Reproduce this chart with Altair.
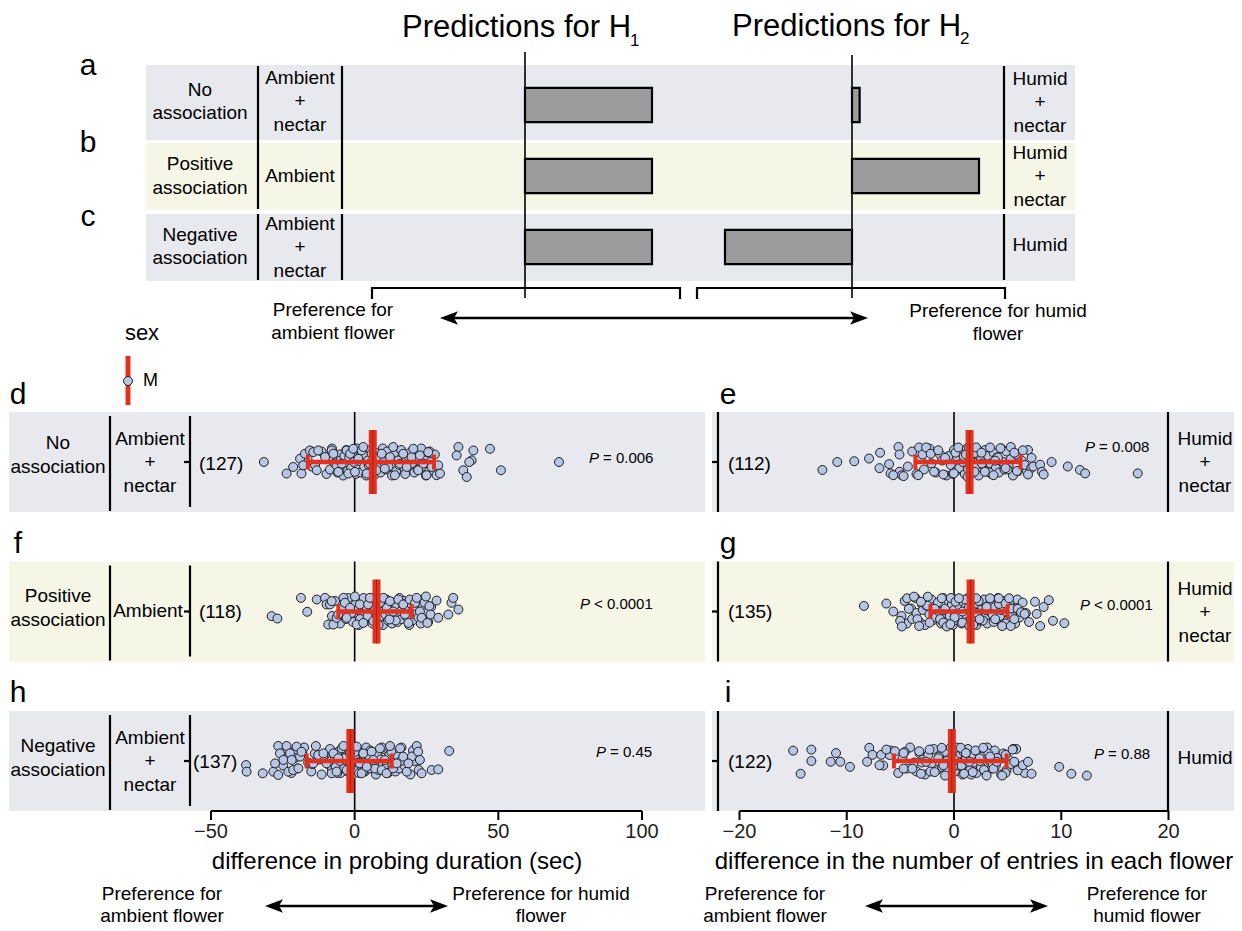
import altair as alt
import pandas as pd

# ------------------------------------------------------------------ data
pred_rows = ["No association", "Positive association", "Negative association"]
h1_pred = [1.0, 1.0, 1.0]          # predicted preference under H1 (schematic units)
h2_pred = [0.06, 1.0, -1.0]        # predicted preference under H2 (schematic units)

panels = ["d", "e", "f", "g", "h", "i"]
panel_side = ["L", "R", "L", "R", "L", "R"]
panel_row = [0, 0, 1, 1, 2, 2]
panel_n = [127, 112, 118, 135, 137, 122]
panel_mean = [6.3, 1.45, 7.6, 1.55, -1.5, -0.2]
panel_lo = [-16.3, -3.6, -5.7, -2.2, -16.7, -5.6]
panel_hi = [27.6, 6.2, 19.8, 5.0, 12.9, 4.9]
panel_p = ["= 0.006", "= 0.008", "< 0.0001", "< 0.0001", "= 0.45", "= 0.88"]

ticks_probing = [-50, 0, 50, 100]
ticks_entries = [-20, -10, 0, 10, 20]

# individual birds: clearly visible points (value, vertical jitter) ...
d_vis_x = [-31.6, -23.7, -21.4, -19.0, -18.5, -17.9, -17.3, -15.6, -14.4, -13.2, -12.7, -10.3, -8.0, -7.4,
           -6.3, -5.7, -4.5, -2.8, -2.2, -1.6, -0.5, 0.1, 1.3, 2.4, 3.0, 4.2, 5.3, 5.9, 7.6, 9.4, 10.5,
           12.3, 13.4, 14.0, 15.8, 16.9, 18.1, 19.8, 20.4, 22.1, 22.7, 23.9, 25.0, 25.6, 26.8, 28.5, 29.1,
           29.7, 36.1, 35.5, 41.3, 40.7, 39.9, 37.8, 39.0, 47.1, 50.9, 71.1]
d_vis_j = [0.0, 0.77, 0.33, -0.22, 0.77, 0.22, -0.55, -0.77, -0.66, 0.55, -0.77, -0.33, -0.77, -0.55, 0.22,
           0.66, 0.11, -0.77, 0.77, -0.55, -0.88, 0.66, -0.22, -0.77, -1.0, 0.77, 0.11, -0.55, 0.55, -0.55,
           0.44, -0.33, -1.0, 0.88, 0.11, -0.55, 0.33, -0.33, -0.88, 0.55, -0.44, 0.11, 0.88, -0.66, 0.33,
           0.88, 0.22, 0.77, -1.0, -0.44, -0.77, -0.11, 0.0, 0.55, 1.0, -0.88, 0.55, 0.0]
e_vis_x = [-12.27, -10.88, -9.30, -7.92, -6.89, -6.95, -6.05, -5.92, -5.18, -5.08, -5.08, -4.86, -4.70,
           -5.66, -3.34, -3.25, -2.93, -2.60, -2.18, -1.86, -1.47, -0.99, -0.83, -0.02, 0.14, 0.40, 1.11,
           1.27, 1.91, 2.07, 2.56, 2.88, 3.36, 3.68, 3.84, 4.33, 4.81, 5.29, 5.62, 5.87, 6.42, 6.90, 7.23,
           7.39, 8.03, 8.20, 8.36, 9.10, 10.61, 11.74, 12.23, 17.13]
e_vis_j = [0.53, 0.0, -0.05, -0.23, -0.62, 0.41, 0.14, 0.76, -1.0, -0.5, 0.65, 0.88, 0.94, 0.88, 0.88,
           -0.97, -0.5, -0.97, -0.55, 0.65, -0.78, 0.83, -0.28, 0.76, -0.62, -0.97, -0.5, 1.0, 0.65, -0.97,
           -0.62, 0.65, -0.97, 0.88, -0.09, -0.92, 0.41, -1.0, -0.62, 0.6, -0.78, 0.83, -0.28, 0.3, 0.18,
           0.65, 0.83, 0.0, 0.3, 0.53, 0.76, 0.76]
f_vis_x = [-28.9, -26.9, -18.7, -16.5, -13.2, -10.3, -9.8, -9.2, -8.6, -8.0, -7.4, -6.3, -5.7, -3.9, -3.4,
           -2.8, -1.6, 0.1, 0.7, 1.8, 3.0, 4.7, 5.3, 6.5, 7.1, 8.8, 10.0, 11.2, 12.1, 12.3, 13.4, 15.2, 16.9,
           17.5, 18.7, 19.2, 21.0, 21.6, 22.7, 23.3, 24.8, 25.3, 26.0, 26.4, 28.5, 29.1, 32.6, 33.7, 34.3, 36.1]
f_vis_j = [0.31, 0.47, -0.91, 0.02, -0.8, -0.91, -0.47, 0.87, -0.47, -0.69, 0.87, 0.42, 0.2, -0.91, -0.58,
           0.42, -0.24, -1.0, 0.87, -0.47, 0.76, -0.47, -0.91, 0.64, -0.13, -0.58, -0.91, -0.24, 0.53, -0.69,
           0.0, -0.8, -0.47, 0.2, 0.76, -0.8, -0.58, -0.91, 0.0, 0.42, -1.0, 0.76, -0.36, 0.2, -0.73, 0.42,
           0.2, -0.58, -0.91, -0.13]
g_vis_x = [-8.40, -6.31, -5.66, -5.02, -4.86, -4.37, -4.21, -3.73, -3.41, -3.25, -3.08, -2.44, -2.28,
           -1.80, -1.15, -0.99, -0.67, -0.34, 0.14, 0.46, 0.78, 1.43, 2.07, 2.39, 3.04, 3.36, 3.84, 4.17,
           4.49, 4.81, 5.13, 5.29, 5.62, 5.94, 6.26, 6.58, 7.55, 7.71, 8.03, 8.36, 8.84, 9.23, 10.29]
g_vis_j = [-0.37, -0.53, 0.0, 0.62, 1.0, -0.88, -0.18, -0.99, 0.51, 0.97, -0.65, -0.99, 0.74, -0.18, -0.88,
           0.74, 1.0, 0.85, -0.65, -0.88, 0.74, 0.97, -0.88, 0.51, -0.3, -0.88, 0.51, -0.88, 0.97, -0.53,
           -0.88, 0.97, 0.51, -0.18, 0.05, 0.16, -0.65, 0.16, 0.97, -0.3, -0.76, 0.62, 0.78]
h_vis_x = [-37.8, -37.6, -32.0, -28.3, -27.7, -26.6, -26.6, -26.0, -24.8, -23.7, -23.1, -22.5, -21.9, -21.4,
           -20.2, -19.6, -19.0, -18.5, -14.4, -13.5, -12.7, -10.9, -9.8, -8.0, -7.4, -6.3, -5.7, -4.5, -3.9,
           -2.8, -1.6, 0.7, 1.8, 2.4, 3.0, 4.2, 5.9, 6.5, 8.8, 9.4, 10.5, 11.1, 12.3, 13.4, 14.6, 15.8, 16.9,
           18.1, 18.7, 21.6, 22.1, 22.7, 23.3, 26.8, 29.1, 32.9]
h_vis_j = [0.27, 0.71, 0.82, 0.71, 0.16, -1.0, 0.93, -0.51, -0.07, -1.0, 0.71, -0.51, -0.07, 0.6, -0.96,
           0.49, -0.29, -0.62, 0.16, -1.0, -0.4, -0.51, 0.16, 0.82, -0.51, 0.71, -0.18, -0.84, -1.0, 0.6,
           -0.51, -0.96, 0.16, 0.82, -0.51, 0.38, -0.62, -0.07, -0.84, 0.6, -0.07, 0.82, -1.0, 0.49, 0.16,
           -0.84, -0.29, 0.71, 0.16, -1.0, -0.62, -0.07, 0.82, 0.6, 0.56, -0.67]
i_vis_x = [-15.0, -14.3, -13.3, -13.3, -11.5, -11.0, -10.6, -9.7, -7.9, -8.1, -7.6, -6.95, -6.79, -6.31,
           -5.5, -4.70, -4.70, -3.89, -3.25, -3.08, -2.60, -2.28, -1.80, -1.47, -1.15, -0.99, -0.83, 0.62,
           0.94, 1.11, 1.43, 1.75, 2.39, 2.72, 3.04, 3.36, 3.68, 4.0, 4.49, 4.81, 5.46, 5.62, 5.94, 6.42,
           6.90, 7.23, 9.81, 10.94, 12.39]
i_vis_j = [-0.69, 0.85, -0.76, 0.0, 0.05, -0.53, 0.05, 0.39, -0.88, 0.05, -0.41, 0.28, -0.41, -0.76, -0.65,
           -0.53, 0.51, 0.51, -0.65, 0.85, 0.05, -0.76, 0.74, -0.18, -0.88, 0.28, 0.97, -0.88, 0.85, -0.53,
           0.05, 0.74, -0.18, -0.88, 0.97, -0.3, 0.51, 0.05, 0.97, -0.41, -0.76, 0.05, 0.62, 0.28, 0.05,
           0.85, 0.39, 0.85, 0.97]

# ... and the densely overlapped core of each swarm (estimated)
d_core_x = [-15.0, -11.5, -9.8, -9.0, -8.6, -7.9, -6.9, -6.0, -5.2, -4.9, -4.0, -3.6, -3.3, -2.9, -2.5, -1.9,
            -1.2, -0.9, -0.3, 0.4, 0.8, 1.0, 1.7, 2.0, 2.7, 3.3, 3.6, 4.0, 4.6, 4.9, 5.6, 6.1, 6.5, 6.8, 7.2,
            7.9, 8.3, 8.7, 9.0, 9.8, 10.1, 10.9, 11.3, 11.8, 12.6, 13.0, 13.7, 14.5, 15.1, 15.5, 16.2, 17.3,
            17.6, 18.6, 19.2, 20.0, 20.8, 21.4, 21.9, 23.2, 23.5, 24.4, 24.8, 26.1, 26.4, 27.4, 27.9, -13.8, -16.4]
e_core_x = [-4.3, -3.9, -3.5, -3.1, -2.8, -2.3, -2.1, -1.7, -1.3, -1.1, -0.7, -0.5, -0.3, 0.0, 0.2, 0.3, 0.5,
            0.7, 0.8, 1.0, 1.2, 1.3, 1.5, 1.6, 1.8, 2.0, 2.2, 2.3, 2.5, 2.7, 2.9, 3.0, 3.2, 3.4, 3.5, 3.7, 3.9,
            4.0, 4.2, 4.4, 4.6, 4.7, 4.9, 5.1, 5.3, 5.5, 5.8, 6.0, 6.3, 6.6, 6.9, 7.2, -0.1, 0.9, 1.9, 2.6,
            3.3, 4.1, 5.0, 1.4]
f_core_x = [-7.9, -6.8, -5.1, -4.4, -3.0, -2.2, -1.1, -0.6, 0.4, 1.1, 1.5, 2.3, 2.6, 3.4, 3.8, 4.2, 5.0, 5.6,
            5.9, 6.2, 6.8, 7.4, 7.7, 8.1, 8.5, 9.2, 9.5, 9.9, 10.4, 10.7, 11.0, 11.6, 11.9, 12.7, 13.0, 13.8,
            14.1, 14.5, 14.9, 15.6, 16.0, 16.4, 17.2, 17.8, 18.2, 19.0, 19.6, 20.1, 20.5, 21.3, 21.9, 22.2,
            23.0, 23.8, 24.3, 25.0, 25.6, 26.6, 1.9, 3.1, 4.5, 6.5, 8.3, 10.1, 12.0, 14.3, 16.7, 18.9]
g_core_x = [-4.9, -4.6, -4.4, -4.0, -3.9, -3.6, -3.5, -3.2, -3.0, -2.9, -2.7, -2.6, -2.3, -2.1, -2.0, -1.9,
            -1.7, -1.5, -1.4, -1.2, -1.0, -0.9, -0.8, -0.6, -0.5, -0.4, -0.2, -0.1, 0.0, 0.1, 0.2, 0.3, 0.5,
            0.6, 0.7, 0.9, 1.0, 1.1, 1.2, 1.3, 1.5, 1.6, 1.7, 1.9, 2.0, 2.1, 2.2, 2.4, 2.5, 2.6, 2.8, 2.9, 3.1,
            3.2, 3.4, 3.5, 3.7, 3.8, 4.0, 4.1, 4.3, 4.4, 4.6, 4.7, 4.9, 5.0, 5.2, 5.4, 5.5, 5.7, 5.9, 6.1, 6.4,
            6.7, 7.0, -2.5, -1.3, -0.3, 0.4, 0.8, 1.4, 1.8, 2.3, 2.7, 3.0, 3.6, 4.2, 4.8, 5.3, 0.05, 1.05, 2.15]
h_core_x = [-24.9, -23.3, -22.0, -20.8, -19.9, -17.6, -16.2, -15.1, -13.9, -12.2, -11.5, -10.4, -9.3, -8.6,
            -7.9, -7.0, -6.6, -5.9, -5.2, -4.9, -4.2, -3.6, -3.2, -2.5, -2.1, -1.8, -1.3, -0.9, -0.5, -0.2,
            0.2, 0.5, 0.9, 1.2, 1.5, 2.1, 2.6, 3.3, 3.6, 4.0, 4.6, 5.1, 5.5, 6.2, 6.9, 7.4, 7.8, 8.3, 9.0, 9.8,
            10.2, 11.0, 11.6, 12.0, 12.8, 13.7, 14.2, 15.1, 15.5, 16.3, 17.3, 17.7, 19.4, 20.3, 21.0, 22.3,
            -18.2, -14.8, -11.0, -6.1, -3.9, -1.5, 0.0, 1.8, 3.0, 4.8, 7.1, 9.5, 13.1, 16.0, 19.9]
i_core_x = [-6.6, -5.9, -5.2, -4.8, -4.4, -4.1, -3.7, -3.5, -3.2, -2.9, -2.7, -2.4, -2.1, -1.9, -1.6, -1.3,
            -1.1, -0.9, -0.7, -0.5, -0.3, -0.2, 0.0, 0.1, 0.3, 0.4, 0.6, 0.8, 1.0, 1.2, 1.3, 1.5, 1.7, 1.9,
            2.1, 2.2, 2.5, 2.6, 2.9, 3.1, 3.3, 3.5, 3.8, 3.9, 4.2, 4.4, 4.6, 4.9, 5.1, 5.3, 5.8, 6.1, 6.6,
            -6.0, -4.6, -3.0, -2.2, -1.4, -0.6, 0.2, 0.7, 1.1, 1.6, 2.0, 2.4, 2.8, 3.2, 3.6, 4.0, 4.8, 5.5,
            -0.1, 0.9]
core_jitter = [0.3, -0.7, 0.8, -0.2, 0.5, -0.9, 0.1, 0.7, -0.5, -0.1, 0.9, -0.4, 0.2, -0.8, 0.6, -0.3, 0.4,
               -0.6, 0.0, 0.8, -0.9, 0.5, -0.2, 0.7, -0.7, 0.3, -0.5, 0.9, -0.1, 0.2, -0.8, 0.6, -0.4, 0.1,
               0.8, -0.6, 0.4, -0.3, 0.7, -0.9, 0.0, 0.5, -0.7, 0.3, -0.2, 0.9, -0.5, 0.6, -0.1, 0.2, -0.8,
               0.4, 0.8, -0.4, -0.6, 0.1, 0.7, -0.3, 0.5, -0.9, 0.3, -0.1, 0.9, -0.7, 0.0, 0.6, -0.5, 0.2,
               -0.2, 0.8, -0.8, 0.4, -0.6, 0.1, 0.7, -0.4, 0.5, -0.9, 0.3, 0.0, -0.3, 0.9, -0.7, 0.6, -0.1,
               0.2, -0.5, 0.8, -0.2, 0.4, -0.8, 0.1, 0.7, -0.6, 0.5, -0.3, 0.9, -0.9, 0.3, -0.4]

vis_x = {"d": d_vis_x, "e": e_vis_x, "f": f_vis_x, "g": g_vis_x, "h": h_vis_x, "i": i_vis_x}
vis_j = {"d": d_vis_j, "e": e_vis_j, "f": f_vis_j, "g": g_vis_j, "h": h_vis_j, "i": i_vis_j}
core_x = {"d": d_core_x, "e": e_core_x, "f": f_core_x, "g": g_core_x, "h": h_core_x, "i": i_core_x}

# ------------------------------------------------------------------ layout / style
OX, OY, W, H = 8, 8, 1226, 919
FONT = "Liberation Sans"
GREY = "#e8e9ee"
YELLOW = "#f5f6e6"
RED = "#e2321f"
DARKRED = "#a8200f"
PT_FILL = "#b8c6e6"
BAR_FILL = "#9a9b9a"
ROWC = [462, 611.5, 761]          # centres of the three lower rows (px)
JIT_PX = 15                        # half-height of the swarms (px)


def anchored(v0, p0, v1, p1, lo, hi, reverse=False):
    u = (p1 - p0) / (v1 - v0)
    return alt.Scale(domain=[v0 + (lo - p0) / u, v0 + (hi - p0) / u],
                     nice=False, zero=False, reverse=reverse)


XPX = anchored(0, 0, 1, 1, OX, OX + W)
YPX = anchored(0, 0, 1, 1, OY, OY + H, reverse=True)
X_L = anchored(-50, 211, 100, 642, OX, OX + W)        # probing duration (s)
X_R = anchored(-20, 739.5, 20, 1168.5, OX, OX + W)    # number of entries
X_H1 = anchored(0, 525, 1, 652, OX, OX + W)
X_H2 = anchored(0, 852, 1, 979, OX, OX + W)
Y_ROW = anchored(0, ROWC[0], 1, ROWC[1], OY, OY + H, reverse=True)
Y_TOP = anchored(0, 105, 1, 176, OY, OY + H, reverse=True)
ROW_PX = ROWC[1] - ROWC[0]


def T(rows, size, align="center", lh=None, italic=False, font=FONT):
    """Text block(s); y is the vertical centre of the whole (possibly multi-line) block."""
    lh = lh or size * 1.2
    fixed = []
    for t, x, y in rows:
        n = t.count("\n") + 1
        fixed.append((t, x, y - (n - 1) * lh / 2))
    df = pd.DataFrame(fixed, columns=["t", "x", "y"])
    kw = dict(font=font, fontSize=size, align=align, baseline="middle", color="black",
              lineBreak="\n", lineHeight=lh)
    if italic:
        kw["fontStyle"] = "italic"
    return alt.Chart(df).mark_text(**kw).encode(
        x=alt.X("x:Q", scale=XPX, axis=None),
        y=alt.Y("y:Q", scale=YPX, axis=None),
        text="t:N")


def R(rows, w=2.0, color="black", xs=None, ys=None):
    df = pd.DataFrame(rows, columns=["x1", "y1", "x2", "y2"])
    return alt.Chart(df).mark_rule(color=color, strokeWidth=w).encode(
        x=alt.X("x1:Q", scale=xs or XPX, axis=None), x2="x2:Q",
        y=alt.Y("y1:Q", scale=ys or YPX, axis=None), y2="y2:Q")


def B(rows):
    df = pd.DataFrame(rows, columns=["x1", "x2", "y1", "y2", "c"])
    return alt.Chart(df).mark_rect().encode(
        x=alt.X("x1:Q", scale=XPX, axis=None), x2="x2:Q",
        y=alt.Y("y1:Q", scale=YPX, axis=None), y2="y2:Q",
        color=alt.Color("c:N", scale=None))


HEAD_R = "M1,0L-1,-0.75L-0.55,0L-1,0.75Z"
HEAD_L = "M-1,0L1,-0.75L0.55,0L1,0.75Z"


def arrow(x0, x1, y):
    hl = 9
    line = R([(x0 + hl, y, x1 - hl, y)], w=2.5)
    lh = alt.Chart(pd.DataFrame({"x": [x0 + hl], "y": [y]})).mark_point(
        shape=HEAD_L, filled=True, size=(2 * hl) ** 2, color="black", opacity=1).encode(
        x=alt.X("x:Q", scale=XPX, axis=None), y=alt.Y("y:Q", scale=YPX, axis=None))
    rh = alt.Chart(pd.DataFrame({"x": [x1 - hl], "y": [y]})).mark_point(
        shape=HEAD_R, filled=True, size=(2 * hl) ** 2, color="black", opacity=1).encode(
        x=alt.X("x:Q", scale=XPX, axis=None), y=alt.Y("y:Q", scale=YPX, axis=None))
    return [line, lh, rh]


layers = []

# ---------------- bands
bands = [(146, 1075, 65, 140, GREY), (146, 1075, 143, 210, YELLOW), (146, 1075, 214, 281, GREY)]
for r, c in enumerate(ROWC):
    col = YELLOW if r == 1 else GREY
    bands.append((9, 705, c - 50, c + 50, col))
    bands.append((712, OX + W, c - 50, c + 50, col))
layers.append(B(bands))

# ---------------- top (predictions) frame lines
top_lines = []
for xx in (258, 342, 1004):
    top_lines += [(xx, 66, xx, 209), (xx, 214, xx, 280)]
top_lines += [(372, 288, 680, 288), (372, 287, 372, 299), (680, 287, 680, 299),
              (697, 288, 1005, 288), (697, 287, 697, 299), (1005, 287, 1005, 299)]
layers.append(R(top_lines, w=2.2))
layers.append(R([(0, 52, 0, 298)], w=1.6, xs=X_H1))
layers.append(R([(0, 55, 0, 298)], w=1.6, xs=X_H2))

top_df = pd.DataFrame({"r": [0, 1, 2], "base": [0.0, 0.0, 0.0], "h1": h1_pred, "h2": h2_pred})
top_df["y1"] = top_df["r"] - 0.24
top_df["y2"] = top_df["r"] + 0.24
for fld, xs in (("h1", X_H1), ("h2", X_H2)):
    layers.append(alt.Chart(top_df).mark_rect(fill=BAR_FILL, stroke="black", strokeWidth=2.2).encode(
        x=alt.X("base:Q", scale=xs, axis=None), x2=f"{fld}:Q",
        y=alt.Y("y1:Q", scale=Y_TOP, axis=None), y2="y2:Q"))

layers += arrow(440, 868, 318)

# ---------------- lower panels: frame lines, ticks, zero lines
low_lines = []
for c in ROWC:
    low_lines += [(110, c - 46, 110, c + 49), (190, c - 46, 190, c + 45),
                  (718, c - 50, 718, c + 50), (1168, c - 50, 1168, c + 50),
                  (184, c, 190, c), (712, c, 718, c)]
layers.append(R(low_lines, w=2.2))
zero_rows = [(0, c - 50, 0, (c + 50 if r < 2 else 811)) for r, c in enumerate(ROWC)]
layers.append(R(zero_rows, w=1.6, xs=X_L))
layers.append(R(zero_rows, w=1.6, xs=X_R))

# ---------------- points
for side, xs in (("L", X_L), ("R", X_R)):
    frames = []
    for p, s, r in zip(panels, panel_side, panel_row):
        if s != side:
            continue
        cx = core_x[p]
        xx = cx + vis_x[p]
        jj = core_jitter[:len(cx)] + vis_j[p]
        df = pd.DataFrame({"v": xx[:len(jj)], "j": jj[:len(xx)]})
        df["yy"] = r + df["j"] * JIT_PX / ROW_PX
        frames.append(df)
    pdf = pd.concat(frames, ignore_index=True)
    layers.append(alt.Chart(pdf).mark_circle(size=80, fill=PT_FILL, stroke="#1c1c1c",
                                             strokeWidth=1, opacity=1).encode(
        x=alt.X("v:Q", scale=xs, axis=None),
        y=alt.Y("yy:Q", scale=Y_ROW, axis=None)))

# ---------------- mean and spread
summ = pd.DataFrame({"p": panels, "side": panel_side, "r": panel_row, "mean": panel_mean,
                     "lo": panel_lo, "hi": panel_hi})
MB = 32 / ROW_PX
CAP = 7.5 / ROW_PX
summ["mt"] = summ["r"] - MB
summ["mb"] = summ["r"] + MB
for side, xs in (("L", X_L), ("R", X_R)):
    sd = summ[summ["side"] == side]
    layers.append(alt.Chart(sd).mark_rule(color=RED, strokeWidth=4.5).encode(
        x=alt.X("lo:Q", scale=xs, axis=None), x2="hi:Q",
        y=alt.Y("r:Q", scale=Y_ROW, axis=None)))
    caps = pd.concat([sd.assign(v=sd["lo"]), sd.assign(v=sd["hi"])])
    caps["ct"] = caps["r"] - CAP
    caps["cb"] = caps["r"] + CAP
    layers.append(alt.Chart(caps).mark_rule(color=RED, strokeWidth=4).encode(
        x=alt.X("v:Q", scale=xs, axis=None),
        y=alt.Y("ct:Q", scale=Y_ROW, axis=None), y2="cb:Q"))
    layers.append(alt.Chart(sd).mark_rule(color=RED, strokeWidth=8).encode(
        x=alt.X("mean:Q", scale=xs, axis=None),
        y=alt.Y("mt:Q", scale=Y_ROW, axis=None), y2="mb:Q"))
    layers.append(alt.Chart(sd).mark_rule(color=DARKRED, strokeWidth=1).encode(
        x=alt.X("mean:Q", scale=xs, axis=None),
        y=alt.Y("mt:Q", scale=Y_ROW, axis=None), y2="mb:Q"))

# ---------------- axes (drawn from the tick lists through the data scales)
for ticks, xs in ((ticks_probing, X_L), (ticks_entries, X_R)):
    layers.append(R([(ticks[0], 811, ticks[-1], 811)], w=2, xs=xs))
    layers.append(R([(t, 811, t, 820) for t in ticks], w=2, xs=xs))
    tdf = pd.DataFrame({"v": ticks, "y": [832] * len(ticks),
                        "t": [str(t).replace("-", "\u2212") for t in ticks]})
    layers.append(alt.Chart(tdf).mark_text(font=FONT, fontSize=20, baseline="middle",
                                           color="#222222").encode(
        x=alt.X("v:Q", scale=xs, axis=None), y=alt.Y("y:Q", scale=YPX, axis=None), text="t:N"))

# ---------------- texts
layers.append(T([("Predictions for H", 402, 27.5), ("Predictions for H", 732, 27)], 31, align="left"))
layers.append(T([("1", 630, 41), ("2", 960, 39)], 17, align="left"))
layers.append(T([("a", 88, 66), ("b", 88, 143), ("c", 88, 217),
                 ("d", 18, 395), ("e", 728, 395), ("f", 18, 544), ("g", 728, 544),
                 ("h", 18, 693), ("i", 728, 693)], 30))
layers.append(T([("No\nassociation", 200, 101.5), ("Ambient\n+\nnectar", 300, 101),
                 ("Positive\nassociation", 200, 176), ("Ambient", 300, 176),
                 ("Negative\nassociation", 200, 246.5), ("Ambient\n+\nnectar", 300, 247),
                 ("Humid\n+\nnectar", 1040, 102), ("Humid\n+\nnectar", 1040, 176),
                 ("Humid", 1040, 245)], 19, lh=23.5))
layers.append(T([("Preference for\nambient flower", 333, 321.5),
                 ("Preference for humid\nflower", 998, 322)], 19, lh=23))
layers.append(T([("sex", 142, 333)], 22))
layers.append(R([(128, 356, 128, 405)], w=5, color=RED))
layers.append(alt.Chart(pd.DataFrame({"x": [128], "y": [381]})).mark_circle(
    size=80, fill=PT_FILL, stroke="#1c1c1c", strokeWidth=1, opacity=1).encode(
    x=alt.X("x:Q", scale=XPX, axis=None), y=alt.Y("y:Q", scale=YPX, axis=None)))
layers.append(T([("M", 143, 381)], 18, align="left"))

layers.append(T([("No\nassociation", 58, 455), ("Ambient\n+\nnectar", 150, 462),
                 ("Positive\nassociation", 58, 608), ("Ambient", 148, 611),
                 ("Negative\nassociation", 58, 758), ("Ambient\n+\nnectar", 150, 761),
                 ("Humid\n+\nnectar", 1205, 462), ("Humid\n+\nnectar", 1205, 612),
                 ("Humid", 1205, 758)], 19, lh=23.5))

n_pos = {"d": (199, 464), "f": (199, 612), "h": (193, 762),
         "e": (728, 464), "g": (728, 612), "i": (728, 762)}
layers.append(T([(f"({n})", n_pos[p][0], n_pos[p][1]) for p, n in zip(panels, panel_n)], 19,
                align="left"))
p_pos = {"d": (589, 458), "e": (1085, 447), "f": (580, 604), "g": (1080, 605),
         "h": (596, 752), "i": (1094, 754)}
layers.append(T([("P", p_pos[p][0], p_pos[p][1]) for p in panels], 15, align="left", italic=True))
layers.append(T([(s, p_pos[p][0] + 14, p_pos[p][1]) for p, s in zip(panels, panel_p)], 15,
                align="left"))

layers.append(T([("difference in probing duration (sec)", 397, 862),
                 ("difference in the number of entries in each flower", 974, 862)], 24))
layers += arrow(265, 448, 906)
layers += arrow(865, 1048, 906)
layers.append(T([("Preference for\nambient flower", 162, 905),
                 ("Preference for humid\nflower", 541, 905),
                 ("Preference for\nambient flower", 765, 905),
                 ("Preference for\nhumid flower", 1147, 905)], 19, lh=22))

chart = alt.layer(*layers).resolve_scale(x="independent", y="independent").properties(
    width=W, height=H, padding=0, autosize=alt.AutoSizeParams(type="none"),
    background="white").configure_view(stroke=None)

chart.save("out.html", embed_options={"renderer": "svg", "actions": False})
